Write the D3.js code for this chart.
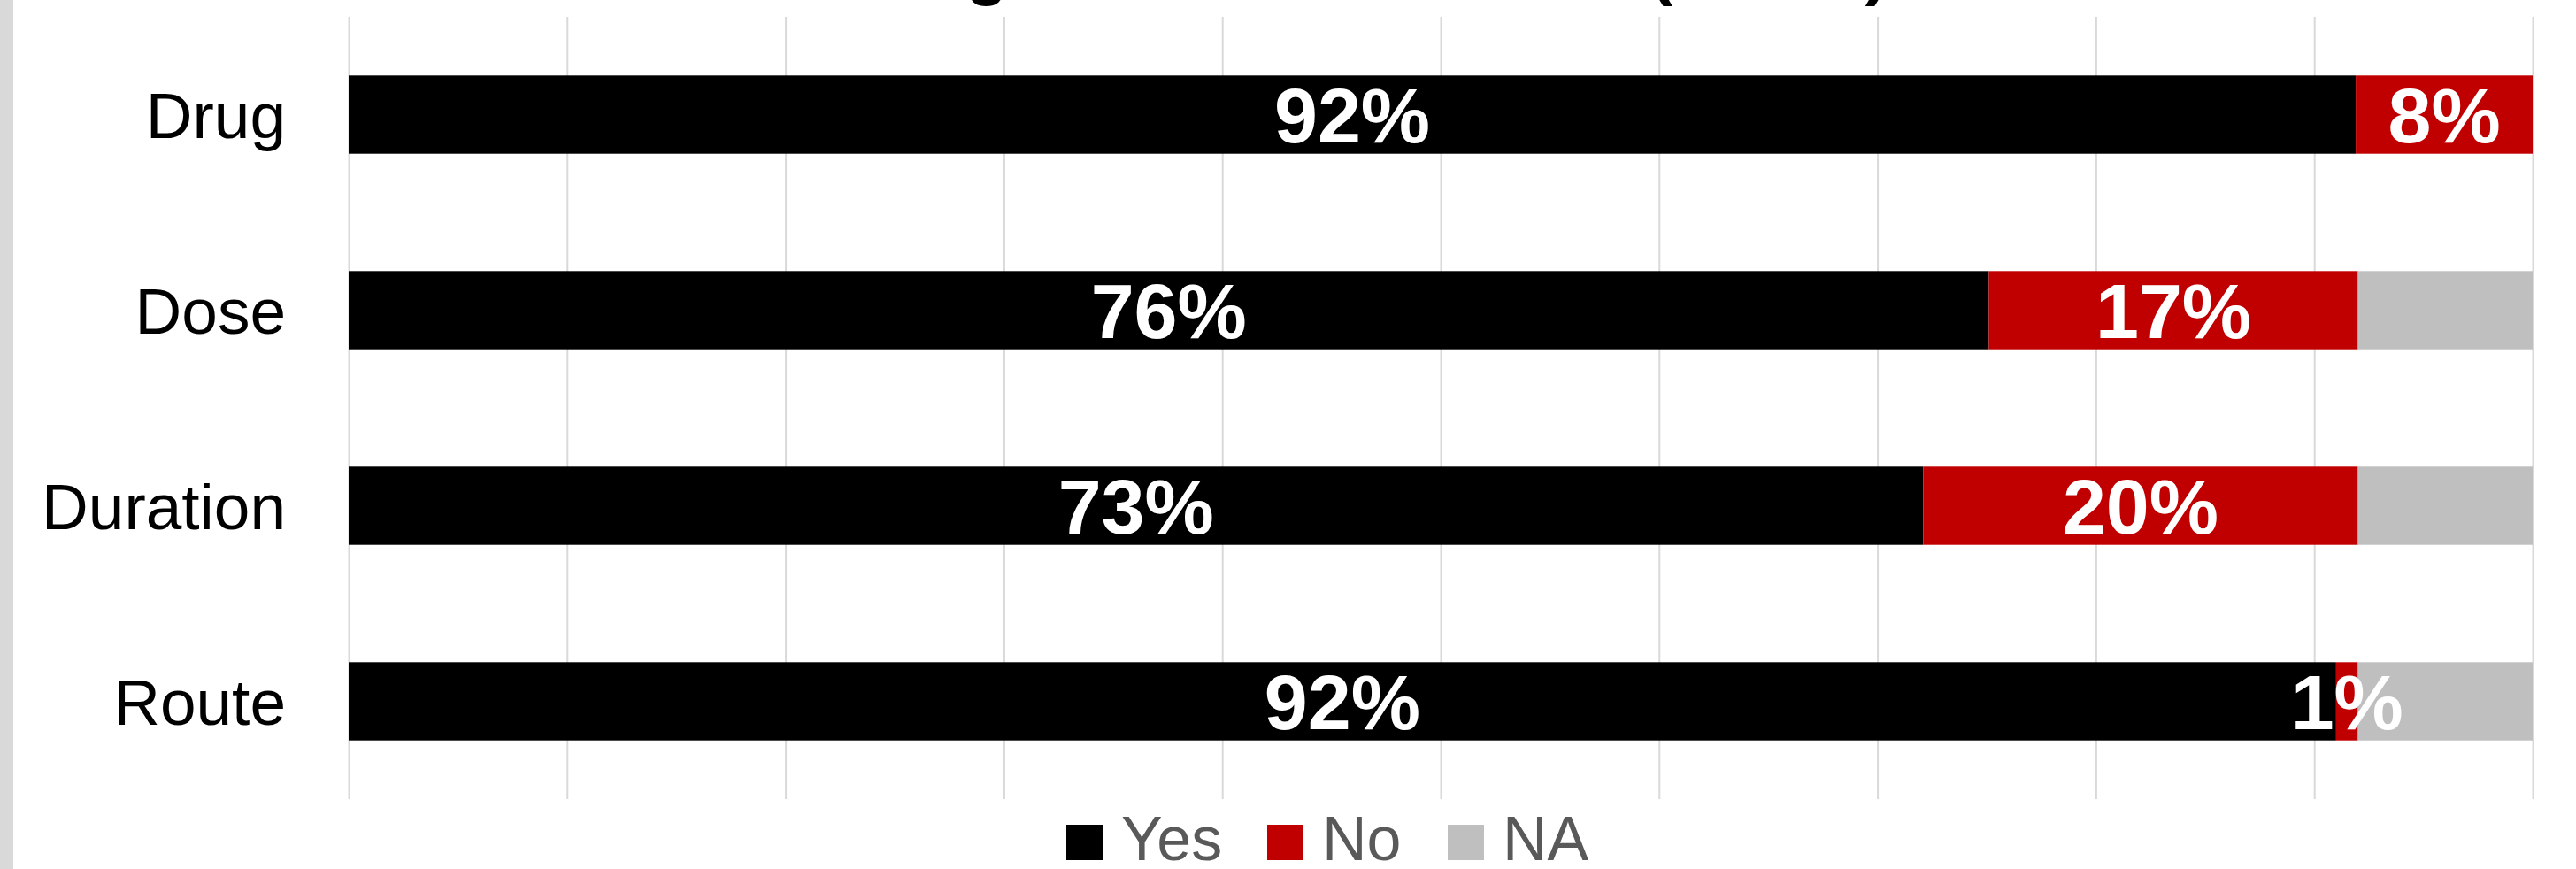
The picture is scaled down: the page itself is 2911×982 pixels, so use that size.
<!DOCTYPE html>
<html>
<head>
<meta charset="utf-8">
<script src="https://cdn.jsdelivr.net/npm/d3@7"></script>
<style>
  body { margin: 0; background: #fff; }
  svg { display: block; }
  .grid line { stroke: #d9d9d9; stroke-width: 2; }
  .grid path { display: none; }
</style>
</head>
<body>
<svg width="2911" height="982"></svg>
<script>
const categories = ['Drug', 'Dose', 'Duration', 'Route'];
const seriesNames = ['Yes', 'No', 'NA'];
const yesValues = [91.9, 75.1, 72.1, 91.0];
const noValues = [8.1, 16.9, 19.9, 1.0];
const naValues = [0, 8.0, 8.0, 8.0];
// labels as printed on the bars
const yesLabels = ['92%', '76%', '73%', '92%'];
const noLabels = ['8%', '17%', '20%', '1%'];
const gridTicks = [0, 10, 20, 30, 40, 50, 60, 70, 80, 90, 100];
const colors = ['#000000', '#c00000', '#bfbfbf'];

const svg = d3.select('svg');

// grey strip at the left edge
svg.append('rect')
  .attr('x', 0).attr('y', 0)
  .attr('width', 15).attr('height', 982)
  .attr('fill', '#d9d9d9');

// title, mostly cut off above the top edge
svg.append('text')
  .attr('x', 1585)
  .attr('y', -9)
  .attr('text-anchor', 'middle')
  .style('font-family', 'Liberation Sans, Arial, sans-serif')
  .style('font-size', '76px')
  .style('font-weight', 'bold')
  .text('Agreement with labels (n=100)');

const plotLeft = 394;
const plotRight = 2862;
const plotTop = 19;
const plotBottom = 903;

const xScale = d3.scaleLinear()
  .domain([0, 100])
  .range([plotLeft, plotRight]);

const yScale = d3.scaleBand()
  .domain(categories)
  .range([plotTop, plotBottom])
  .paddingInner(0.6)
  .paddingOuter(0.3);

svg.append('g')
  .attr('class', 'grid')
  .attr('transform', `translate(0, ${plotBottom})`)
  .call(d3.axisBottom(xScale)
    .tickValues(gridTicks)
    .tickSize(-(plotBottom - plotTop))
    .tickFormat(''));

const rows = categories.map((c, i) => ({
  cat: c,
  Yes: yesValues[i],
  No: noValues[i],
  NA: naValues[i]
}));

const stacked = d3.stack().keys(seriesNames)(rows);

const layers = svg.selectAll('.layer')
  .data(stacked)
  .enter()
  .append('g')
  .attr('class', 'layer')
  .attr('fill', (d, i) => colors[i]);

layers.selectAll('rect')
  .data((d) => d.filter((s) => s[1] - s[0] > 0))
  .enter()
  .append('rect')
  .attr('x', (s) => xScale(s[0]))
  .attr('y', (s) => yScale(s.data.cat))
  .attr('width', (s) => xScale(s[1]) - xScale(s[0]))
  .attr('height', yScale.bandwidth());

// value labels, Yes then No
const labelSets = [yesLabels, noLabels];
labelSets.forEach((labels, k) => {
  svg.selectAll(null)
    .data(stacked[k])
    .enter()
    .append('text')
    .attr('x', (s) => (xScale(s[0]) + xScale(s[1])) / 2)
    .attr('y', (s) => yScale(s.data.cat) + yScale.bandwidth() / 2)
    .attr('dy', '0.36em')
    .attr('text-anchor', 'middle')
    .attr('fill', '#fff')
    .style('font-family', 'Liberation Sans, Arial, sans-serif')
    .style('font-size', '88px')
    .style('font-weight', 'bold')
    .text((s, i) => labels[i]);
});

// category labels
svg.selectAll('.cat')
  .data(categories)
  .enter()
  .append('text')
  .attr('class', 'cat')
  .attr('x', 323)
  .attr('y', (c) => yScale(c) + yScale.bandwidth() / 2)
  .attr('dy', '0.36em')
  .attr('text-anchor', 'end')
  .attr('fill', '#000')
  .style('font-family', 'Liberation Sans, Arial, sans-serif')
  .style('font-size', '73px')
  .text((c) => c);

// legend
const legendX = [1205, 1432, 1636];
const legend = svg.selectAll('.legend')
  .data(seriesNames)
  .enter()
  .append('g')
  .attr('class', 'legend')
  .attr('transform', (d, i) => `translate(${legendX[i]}, 972)`);

legend.append('rect')
  .attr('x', 0)
  .attr('y', -40)
  .attr('width', 41)
  .attr('height', 40)
  .attr('fill', (d, i) => colors[i]);

legend.append('text')
  .attr('x', 62)
  .attr('y', 0)
  .attr('fill', '#595959')
  .style('font-family', '"Liberation Sans Narrow", "Arial Narrow", sans-serif')
  .style('font-stretch', 'condensed')
  .style('font-size', '70px')
  .text((d) => d);
</script>
</body>
</html>
